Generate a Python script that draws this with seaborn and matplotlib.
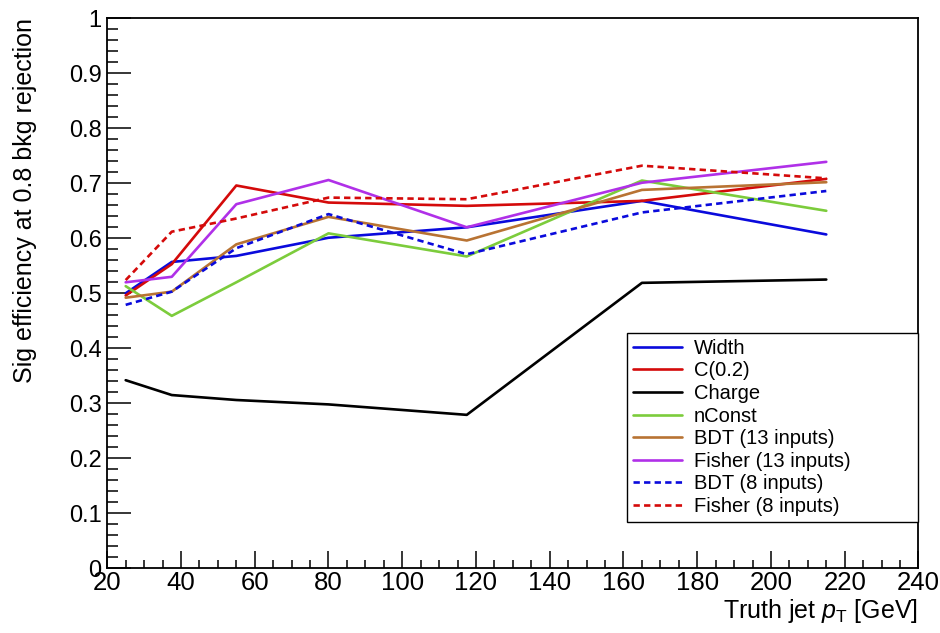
import numpy as np
import pandas as pd
import matplotlib
matplotlib.use("Agg")
import matplotlib.pyplot as plt
from matplotlib.ticker import MultipleLocator, FuncFormatter
import seaborn as sns

# truth jet pT bin centres [GeV]
pt = [25, 37.5, 55, 80, 117.5, 165, 215]

width_eff   = [0.500, 0.557, 0.568, 0.601, 0.620, 0.668, 0.607]
c02_eff     = [0.496, 0.553, 0.696, 0.665, 0.659, 0.668, 0.708]
charge_eff  = [0.342, 0.315, 0.306, 0.298, 0.279, 0.519, 0.525]
nconst_eff  = [0.513, 0.459, 0.520, 0.609, 0.567, 0.705, 0.650]
bdt13_eff   = [0.492, 0.503, 0.589, 0.639, 0.596, 0.688, 0.702]
fish13_eff  = [0.520, 0.530, 0.662, 0.706, 0.620, 0.701, 0.739]
bdt8_eff    = [0.479, 0.503, 0.582, 0.644, 0.571, 0.647, 0.686]
fish8_eff   = [0.524, 0.612, 0.636, 0.674, 0.671, 0.732, 0.709]

labels = ["Width", "C(0.2)", "Charge", "nConst", "BDT (13 inputs)",
          "Fisher (13 inputs)", "BDT (8 inputs)", "Fisher (8 inputs)"]
series = [width_eff, c02_eff, charge_eff, nconst_eff, bdt13_eff,
          fish13_eff, bdt8_eff, fish8_eff]
colors = ["#0a0adc", "#d40a0a", "#000000", "#7ccc3c", "#b87333",
          "#b030e8", "#0a0adc", "#d40a0a"]
dashed = [False] * 6 + [True] * 2

rows = []
for lab, vals in zip(labels, series):
    for x, v in zip(pt, vals):
        rows.append({"pt": x, "eff": v, "method": lab})
df = pd.DataFrame(rows)

sns.set_style("ticks")
plt.rcParams['font.family'] = ['Liberation Sans', 'DejaVu Sans']
plt.rcParams['mathtext.fontset'] = 'custom'
plt.rcParams['mathtext.it'] = 'Liberation Sans:italic'
plt.rcParams['mathtext.rm'] = 'Liberation Sans'
for k in ['text.color', 'axes.labelcolor', 'xtick.color', 'ytick.color']:
    plt.rcParams[k] = 'black'

fig = plt.figure(figsize=(9.4, 6.33), dpi=100)
ax = fig.add_axes([0.1141, 0.1022, 0.8630, 0.8689])

for lab, col, d in zip(labels, colors, dashed):
    sns.lineplot(data=df[df.method == lab], x="pt", y="eff", ax=ax,
                 color=col, linewidth=1.9, label=lab,
                 linestyle=(0, (2.4, 1.6)) if d else "-")

ax.set_xlim(20, 240)
ax.set_ylim(0, 1)
ax.xaxis.set_major_locator(MultipleLocator(20))
ax.xaxis.set_minor_locator(MultipleLocator(5))
ax.yaxis.set_major_locator(MultipleLocator(0.1))
ax.yaxis.set_minor_locator(MultipleLocator(0.02))
ax.yaxis.set_major_formatter(FuncFormatter(lambda v, p: "%g" % round(v, 2)))

ax.tick_params(axis="y", which="major", direction="in", length=17, width=1.1,
               labelsize=17, pad=4)
ax.tick_params(axis="y", which="minor", direction="in", length=8, width=1.1)
ax.tick_params(axis="x", which="major", direction="in", length=12, width=1.1,
               labelsize=18.5, pad=2)
ax.tick_params(axis="x", which="minor", direction="in", length=6, width=1.1)
for s in ax.spines.values():
    s.set_linewidth(1.3)
    s.set_color("black")

ax.set_ylabel("Sig efficiency at 0.8 bkg rejection", fontsize=18, loc="top")
ax.yaxis.set_label_coords(-0.086, 1.0)
ax.set_xlabel("Truth jet $p_{\\mathrm{T}}$ [GeV]", fontsize=18, loc="right")
ax.xaxis.set_label_coords(1.0, -0.052)

leg = ax.legend(loc="lower left", bbox_to_anchor=(0.641, 0.084, 0.359, 0.364),
                mode="expand", borderaxespad=0, fontsize=14.5, frameon=True,
                fancybox=False, edgecolor="black", labelspacing=0.18,
                handlelength=2.4, handletextpad=0.6, borderpad=0.3)
leg.get_frame().set_linewidth(1.0)
leg.get_frame().set_alpha(1)

fig.savefig("out.png", dpi=100)
